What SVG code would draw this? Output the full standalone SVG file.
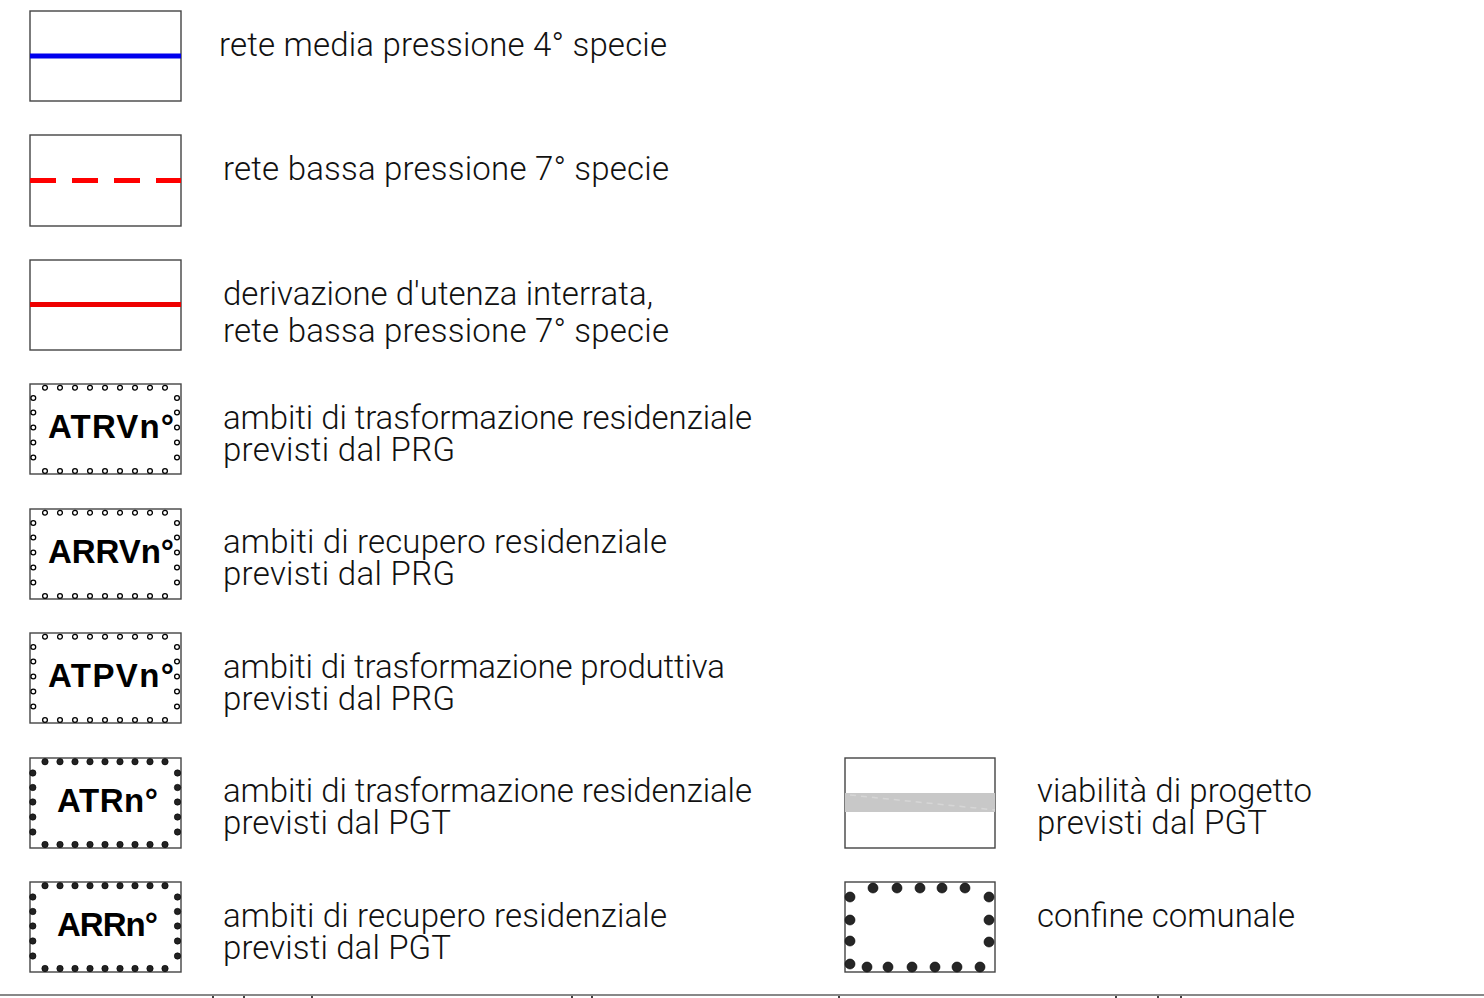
<svg xmlns="http://www.w3.org/2000/svg" width="1484" height="998" viewBox="0 0 1484 998">
<style>
.bg{fill:#fff}
.box{fill:#fff;stroke:#444;stroke-width:1.4}
.lbl{font-family:Roboto,"Liberation Sans",Arial,sans-serif;font-weight:300;font-size:33px;fill:#111}
.code{font-family:"Liberation Sans",Arial,sans-serif;font-weight:bold;font-size:33px;fill:#000}
.ho{fill:#fff;stroke:#000;stroke-width:1.3}
.fi{fill:#222;stroke:#000;stroke-width:0.6}
.big{fill:#262626;stroke:#000;stroke-width:0.6}
</style>
<defs>
<g id="hollowDots">
<circle class="ho" cx="45" cy="3.7" r="2.4"/><circle class="ho" cx="60" cy="3.7" r="2.4"/><circle class="ho" cx="75" cy="3.7" r="2.4"/><circle class="ho" cx="90" cy="3.7" r="2.4"/><circle class="ho" cx="105" cy="3.7" r="2.4"/><circle class="ho" cx="120" cy="3.7" r="2.4"/><circle class="ho" cx="135" cy="3.7" r="2.4"/><circle class="ho" cx="150" cy="3.7" r="2.4"/><circle class="ho" cx="165" cy="3.7" r="2.4"/>
<circle class="ho" cx="45" cy="87" r="2.4"/><circle class="ho" cx="60" cy="87" r="2.4"/><circle class="ho" cx="75" cy="87" r="2.4"/><circle class="ho" cx="90" cy="87" r="2.4"/><circle class="ho" cx="105" cy="87" r="2.4"/><circle class="ho" cx="120" cy="87" r="2.4"/><circle class="ho" cx="135" cy="87" r="2.4"/><circle class="ho" cx="150" cy="87" r="2.4"/><circle class="ho" cx="165" cy="87" r="2.4"/>
<circle class="ho" cx="33.3" cy="14" r="2.4"/><circle class="ho" cx="33.3" cy="28.5" r="2.4"/><circle class="ho" cx="33.3" cy="43.5" r="2.4"/><circle class="ho" cx="33.3" cy="58.5" r="2.4"/><circle class="ho" cx="33.3" cy="73.5" r="2.4"/>
<circle class="ho" cx="177" cy="14" r="2.4"/><circle class="ho" cx="177" cy="28.5" r="2.4"/><circle class="ho" cx="177" cy="43.5" r="2.4"/><circle class="ho" cx="177" cy="58.5" r="2.4"/><circle class="ho" cx="177" cy="73.5" r="2.4"/>
</g>
<g id="filledDots">
<circle class="fi" cx="45" cy="3.7" r="3.2"/><circle class="fi" cx="60" cy="3.7" r="3.2"/><circle class="fi" cx="75" cy="3.7" r="3.2"/><circle class="fi" cx="90" cy="3.7" r="3.2"/><circle class="fi" cx="105" cy="3.7" r="3.2"/><circle class="fi" cx="120" cy="3.7" r="3.2"/><circle class="fi" cx="135" cy="3.7" r="3.2"/><circle class="fi" cx="150" cy="3.7" r="3.2"/><circle class="fi" cx="165" cy="3.7" r="3.2"/>
<circle class="fi" cx="45" cy="86.5" r="3.2"/><circle class="fi" cx="60" cy="86.5" r="3.2"/><circle class="fi" cx="75" cy="86.5" r="3.2"/><circle class="fi" cx="90" cy="86.5" r="3.2"/><circle class="fi" cx="105" cy="86.5" r="3.2"/><circle class="fi" cx="120" cy="86.5" r="3.2"/><circle class="fi" cx="135" cy="86.5" r="3.2"/><circle class="fi" cx="150" cy="86.5" r="3.2"/><circle class="fi" cx="165" cy="86.5" r="3.2"/>
<circle class="fi" cx="32.8" cy="15" r="3.2"/><circle class="fi" cx="32.8" cy="29.5" r="3.2"/><circle class="fi" cx="32.8" cy="44" r="3.2"/><circle class="fi" cx="32.8" cy="59" r="3.2"/><circle class="fi" cx="32.8" cy="74" r="3.2"/>
<circle class="fi" cx="177.5" cy="15" r="3.2"/><circle class="fi" cx="177.5" cy="29.5" r="3.2"/><circle class="fi" cx="177.5" cy="44" r="3.2"/><circle class="fi" cx="177.5" cy="59" r="3.2"/><circle class="fi" cx="177.5" cy="74" r="3.2"/>
</g>
</defs>
<rect class="bg" x="0" y="0" width="1484" height="998"/>

<g id="item-media-pressione">
<rect class="box" x="30" y="11" width="151" height="90"/>
<line x1="30" y1="56" x2="181" y2="56" stroke="#0000ee" stroke-width="5"/>
<text class="lbl" x="219" y="56" textLength="448">rete media pressione 4° specie</text>
</g>

<g id="item-bassa-pressione">
<rect class="box" x="30" y="135" width="151" height="91"/>
<line x1="30" y1="180.5" x2="181" y2="180.5" stroke="#ff0000" stroke-width="5" stroke-dasharray="26 16"/>
<text class="lbl" x="223" y="180" textLength="446">rete bassa pressione 7° specie</text>
</g>

<g id="item-derivazione">
<rect class="box" x="30" y="260" width="151" height="90"/>
<line x1="30" y1="304.5" x2="181" y2="304.5" stroke="#ee0000" stroke-width="5"/>
<text class="lbl" x="223" y="305" textLength="430">derivazione d'utenza interrata,</text>
<text class="lbl" x="223" y="342" textLength="446">rete bassa pressione 7° specie</text>
</g>

<g id="item-ATRVn">
<rect class="box" x="30" y="384" width="151" height="90"/>
<use href="#hollowDots" x="0" y="384"/>
<text class="code" x="48" y="438" textLength="126">ATRVn°</text>
<text class="lbl" x="223" y="429" textLength="529">ambiti di trasformazione residenziale</text>
<text class="lbl" x="223" y="461" textLength="232">previsti dal PRG</text>
</g>

<g id="item-ARRVn">
<rect class="box" x="30" y="509" width="151" height="90"/>
<use href="#hollowDots" x="0" y="509"/>
<text class="code" x="48" y="563" textLength="126">ARRVn°</text>
<text class="lbl" x="223" y="553" textLength="444">ambiti di recupero residenziale</text>
<text class="lbl" x="223" y="585" textLength="232">previsti dal PRG</text>
</g>

<g id="item-ATPVn">
<rect class="box" x="30" y="633" width="151" height="90"/>
<use href="#hollowDots" x="0" y="633"/>
<text class="code" x="48" y="687" textLength="126">ATPVn°</text>
<text class="lbl" x="223" y="678" textLength="502">ambiti di trasformazione produttiva</text>
<text class="lbl" x="223" y="710" textLength="232">previsti dal PRG</text>
</g>

<g id="item-ATRn">
<rect class="box" x="30" y="758" width="151" height="90"/>
<use href="#filledDots" x="0" y="758"/>
<text class="code" x="57" y="812" textLength="101">ATRn°</text>
<text class="lbl" x="223" y="802" textLength="529">ambiti di trasformazione residenziale</text>
<text class="lbl" x="223" y="834" textLength="228">previsti dal PGT</text>
</g>

<g id="item-ARRn">
<rect class="box" x="30" y="882" width="151" height="90"/>
<use href="#filledDots" x="0" y="882"/>
<text class="code" x="57" y="936" textLength="101">ARRn°</text>
<text class="lbl" x="223" y="927" textLength="444">ambiti di recupero residenziale</text>
<text class="lbl" x="223" y="959" textLength="228">previsti dal PGT</text>
</g>

<g id="item-viabilita">
<rect class="box" x="845" y="758" width="150" height="90"/>
<rect x="845" y="793" width="150" height="19" fill="#c8c8c8"/>
<line x1="850" y1="795" x2="995" y2="810" stroke="#d6d6d6" stroke-width="1.5" stroke-dasharray="6 5"/>
<text class="lbl" x="1037" y="802" textLength="275">viabilità di progetto</text>
<text class="lbl" x="1037" y="834" textLength="230">previsti dal PGT</text>
</g>

<g id="item-confine">
<rect class="box" x="845" y="882" width="150" height="90"/>
<circle class="big" cx="873" cy="888" r="5"/><circle class="big" cx="897" cy="888" r="5"/><circle class="big" cx="920" cy="888" r="5"/><circle class="big" cx="942" cy="888" r="5"/><circle class="big" cx="965" cy="888" r="5"/>
<circle class="big" cx="850" cy="897" r="5"/><circle class="big" cx="850" cy="920" r="5"/><circle class="big" cx="850" cy="941" r="5"/><circle class="big" cx="850" cy="964" r="5"/>
<circle class="big" cx="867" cy="967" r="5"/><circle class="big" cx="888" cy="967" r="5"/><circle class="big" cx="912" cy="967" r="5"/><circle class="big" cx="935" cy="967" r="5"/><circle class="big" cx="957" cy="967" r="5"/><circle class="big" cx="980" cy="967" r="5"/>
<circle class="big" cx="989" cy="897" r="5"/><circle class="big" cx="989" cy="920" r="5"/><circle class="big" cx="989" cy="942" r="5"/>
<text class="lbl" x="1037" y="927" textLength="258">confine comunale</text>
</g>

<g id="connectors">
<line x1="0" y1="995" x2="1484" y2="995" stroke="#888" stroke-width="2"/>
<g stroke="#000" stroke-width="1.5">
<line x1="213" y1="996" x2="213" y2="998"/><line x1="244" y1="996" x2="244" y2="998"/><line x1="312" y1="996" x2="312" y2="998"/><line x1="572" y1="996" x2="572" y2="998"/><line x1="592" y1="996" x2="592" y2="998"/><line x1="839" y1="996" x2="839" y2="998"/><line x1="1116" y1="996" x2="1116" y2="998"/><line x1="1158" y1="996" x2="1158" y2="998"/><line x1="1181" y1="996" x2="1181" y2="998"/>
</g>
</g>
</svg>
